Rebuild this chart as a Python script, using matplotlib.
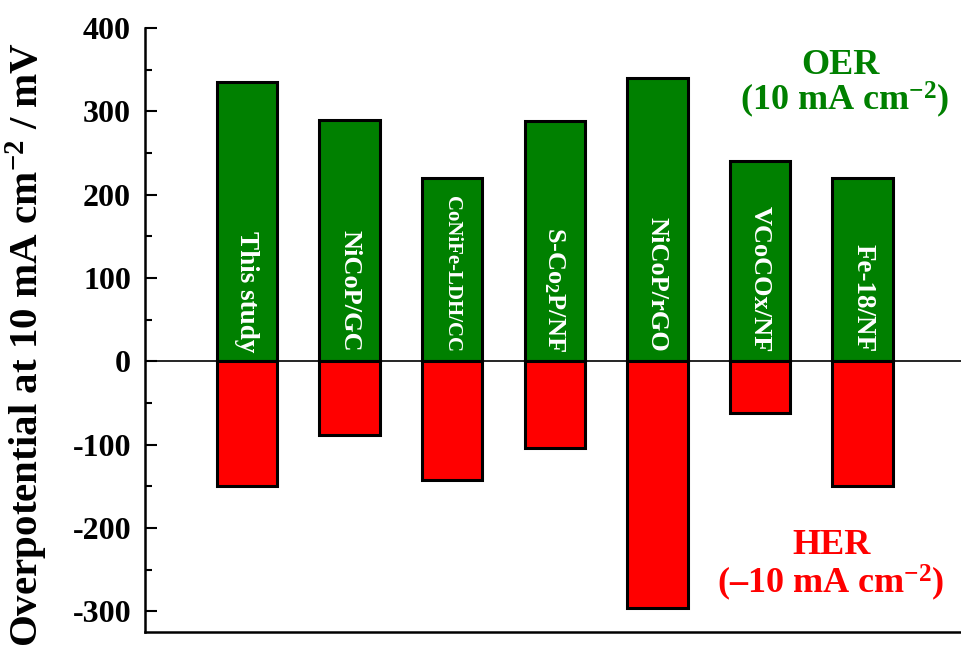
import matplotlib
matplotlib.use("Agg")
import matplotlib.pyplot as plt
from matplotlib.ticker import MultipleLocator

# Catalyst names and overpotentials (mV) at 10 mA cm^-2
catalysts = ["This study", "NiCoP/GC", "CoNiFe-LDH/CC", "S-Co$_2$P/NF",
             "NiCoP/rGO", "VCoCOx/NF", "Fe-18/NF"]
oer_values = [335, 290, 220, 288, 340, 240, 220]
her_values = [-150, -88, -143, -104, -296, -62, -150]
label_sizes = [19.5, 19, 15, 19, 19, 19, 19.5]
y_ticks = [-300, -200, -100, 0, 100, 200, 300, 400]

plt.rcParams.update({
    "font.family": "Liberation Serif",
    "font.weight": "bold",
    "mathtext.fontset": "custom",
    "mathtext.rm": "Liberation Serif:bold",
    "mathtext.it": "Liberation Serif:italic:bold",
    "mathtext.bf": "Liberation Serif:bold",
    "axes.unicode_minus": False,
})

fig = plt.figure(figsize=(9.61, 6.60), dpi=100)
ax = fig.add_axes([145 / 961, 1 - 632 / 660, 1 - 145 / 961, (632 - 28) / 660])

x = list(range(len(catalysts)))
green = "#008000"
red = "#FF0000"

ax.axhline(0, color="black", lw=1.2, zorder=1)
ax.bar(x, oer_values, width=0.59, color=green, edgecolor="black",
       linewidth=2.2, zorder=2)
ax.bar(x, her_values, width=0.59, color=red, edgecolor="black",
       linewidth=2.2, zorder=2)

for xi, name, fs in zip(x, catalysts, label_sizes):
    ax.text(xi, 11, name, rotation=270, ha="center", va="bottom",
            color="white", fontsize=fs, fontweight="bold", zorder=3)

ax.set_xlim(-0.994, 6.959)
ax.set_ylim(-325, 400)
ax.set_yticks(y_ticks)
ax.yaxis.set_minor_locator(MultipleLocator(50))
ax.set_xticks([])
ax.tick_params(axis="y", which="major", direction="in", length=8.5,
               width=1.5, labelsize=23, pad=10)
ax.tick_params(axis="y", which="minor", direction="in", length=5, width=1.5)
for side in ("top", "right"):
    ax.spines[side].set_visible(False)
for side in ("left", "bottom"):
    ax.spines[side].set_linewidth(1.8)

# Reaction annotations
fig.text(840 / 961, 1 - 65 / 660, "OER", ha="center", va="center",
         color=green, fontsize=26, fontweight="bold")
fig.text(845 / 961, 1 - 100 / 660, "(10 mA cm$^{\u22122}$)", ha="center",
         va="center", color=green, fontsize=26, fontweight="bold")
fig.text(832 / 961, 1 - 545 / 660, "HER", ha="center", va="center",
         color=red, fontsize=26, fontweight="bold")
fig.text(831 / 961, 1 - 583 / 660, "(\u201310 mA cm$^{\u22122}$)", ha="center",
         va="center", color=red, fontsize=26, fontweight="bold")

fig.text(27 / 961, 1 - 344 / 660,
         "Overpotential at 10 mA cm$^{-2}$ / mV", rotation=90,
         ha="center", va="center", fontsize=29.5, fontweight="bold")

fig.savefig("out.png", dpi=100)
